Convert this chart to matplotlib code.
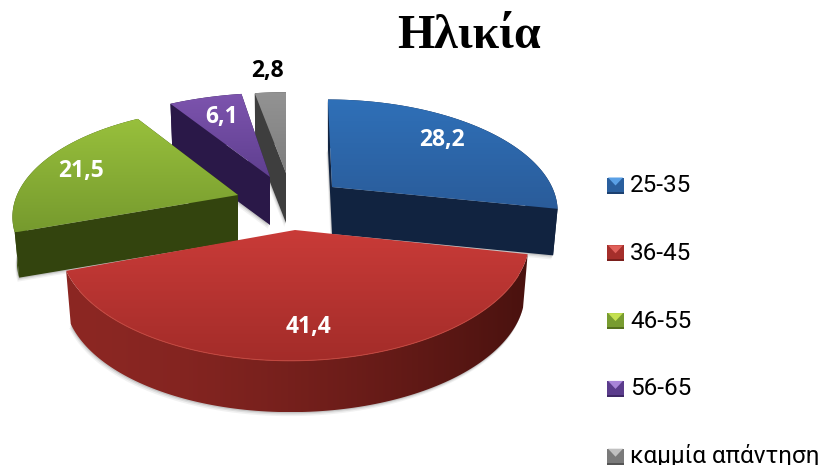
import numpy as np
import matplotlib
matplotlib.use("Agg")
import matplotlib.pyplot as plt
from matplotlib.patches import Polygon, Rectangle
from matplotlib.colors import to_rgb

title = "Ηλικία"
categories = ["25-35", "36-45", "46-55", "56-65", "καμμία απάντηση"]
values = [28.2, 41.4, 21.5, 6.1, 2.8]
value_labels = ["28,2", "41,4", "21,5", "6,1", "2,8"]
label_colors = ["white", "white", "white", "white", "black"]
label_pos = [(442, 140), (309, 327), (81, 171), (222, 117), (267, 71)]

# slice projection: apex x, apex y, horizontal radius, depth radius, perspective, shear, thickness
geometry = [
    (332, 187, 220, 105, 0.20, -5, 47),
    (295, 230, 234, 119, 0.09, 4, 54),
    (238, 195, 221, 105, 0.20, 0, 46),
    (270, 177, 229, 101, 0.20, 6, 48),
    (286, 173, 214, 97, 0.20, 0, 50),
]
BASE_SCALE = 0.98
top_light = ["#2f70b8", "#c93b38", "#98c03c", "#7d54ae", "#939393"]
top_dark = ["#2a5c9a", "#a32c29", "#769a2e", "#5f3f90", "#7e7e7e"]
wall_a = ["#14294a", "#8c2723", "#3e5212", "#2c1a4c", "#484848"]
wall_b = ["#112340", "#4a120f", "#33440e", "#2a1848", "#3e3e3e"]
legend_base = ["#2a5f9e", "#a52f2b", "#789c30", "#5b3c8c", "#7a7a7a"]
legend_tip = ["#5aa0e6", "#e0605a", "#c4e050", "#a884d8", "#c0c0c0"]
legend_low = ["#1c4070", "#7a1f1c", "#55701e", "#3f2866", "#555555"]

plt.rcParams["font.family"] = ["Roboto", "Open Sans", "DejaVu Sans"]
fig = plt.figure(figsize=(8.24, 4.65), dpi=100)
ax = fig.add_axes([0, 0, 1, 1])
ax.set_xlim(0, 824)
ax.set_ylim(465, 0)
ax.axis("off")


def project(geo, theta):
    ax0, ay0, a, b, k, s, _ = geo
    f = 1 / (1 + k * np.cos(theta))
    return ax0 + (a * np.sin(theta) + s * np.cos(theta)) * f, ay0 - b * np.cos(theta) * f


def gradient_fill(pts, c1, c2, vertical=True, power=1.0):
    poly = Polygon(pts, closed=True, fc="none", ec="none", zorder=1)
    ax.add_patch(poly)
    c1, c2 = np.array(to_rgb(c1)), np.array(to_rgb(c2))
    t = np.linspace(0, 1, 128) ** power
    if vertical:
        grad = t[:, None, None] * (c2 - c1) + c1
    else:
        grad = t[None, :, None] * (c2 - c1) + c1
    im = ax.imshow(grad, extent=[pts[:, 0].min(), pts[:, 0].max(), pts[:, 1].max(), pts[:, 1].min()],
                   aspect="auto", interpolation="bilinear", zorder=1)
    im.set_clip_path(poly)


fractions = np.array(values) / sum(values) * 2 * np.pi
edges = np.concatenate([[0], np.cumsum(fractions)])

# painter's order: rear slices first, the front slice last
for i in [4, 3, 2, 0, 1]:
    geo = geometry[i]
    th = np.linspace(edges[i], edges[i + 1], 120)
    x, y = project(geo, th)
    d = geo[6]
    ax0, ay0 = geo[0], geo[1]
    bx = ax0 + (x - ax0) * BASE_SCALE
    by = ay0 + (y - ay0) * BASE_SCALE + d

    # soft shadow under the base
    base = np.column_stack([np.r_[ax0, bx], np.r_[ay0 + d, by]])
    for off, al in [(4, 0.08), (2.5, 0.12), (1.2, 0.18)]:
        ax.add_patch(Polygon(base + [-off * 0.4, off], closed=True, fc="#555555", ec="none", alpha=al, zorder=1))

    # outer wall, shaded along the arc
    wall = np.column_stack([np.r_[x, bx[::-1]], np.r_[y, by[::-1]]])
    gradient_fill(wall, wall_a[i], wall_b[i], vertical=False, power=1.5)

    # radial walls (the front slice hides its own)
    if i != 1:
        for k in (0, -1):
            ax.add_patch(Polygon([(x[k], y[k]), (ax0, ay0), (ax0, ay0 + d), (bx[k], by[k])],
                                 closed=True, fc=wall_b[i], ec="none", zorder=1))

    # top face with vertical gradient
    pts = np.column_stack([np.r_[ax0, x], np.r_[ay0, y]])
    gradient_fill(pts, top_light[i], top_dark[i])
    if i == 1:
        ax.plot(x[8:-8], y[8:-8], color="#c4473f", lw=0.7, zorder=1)

ax.set_xlim(0, 824)
ax.set_ylim(465, 0)

for lab, col, (lx, ly) in zip(value_labels, label_colors, label_pos):
    ax.text(lx, ly, lab, color=col, fontsize=16.5, fontweight="bold", family="Open Sans",
            ha="center", va="center", zorder=10)

ax.text(469, 36, title, family="Liberation Serif", fontweight="bold", fontsize=34.5,
        ha="center", va="center", color="black", zorder=10)

for i, cat in enumerate(categories):
    baseline = 192 + 67.8 * i
    yc = baseline - 6.5
    x0, x1 = 607, 624
    y0, y1 = yc - 8, yc + 8
    ax.add_patch(Rectangle((x0, y0), x1 - x0, y1 - y0, fc=legend_base[i], ec="none", zorder=10))
    ax.add_patch(Polygon([(x0 + 1, y0), (x1 - 1, y0), ((x0 + x1) / 2, y0 + 8)], closed=True,
                         fc=legend_tip[i], ec="none", zorder=11))
    ax.add_patch(Rectangle((x0, y1 - 2), x1 - x0, 2, fc=legend_low[i], ec="none", zorder=11))
    ax.text(630, baseline, cat, fontsize=17.5, color="black", ha="left", va="baseline", zorder=10)

fig.savefig("out.png", dpi=100)
